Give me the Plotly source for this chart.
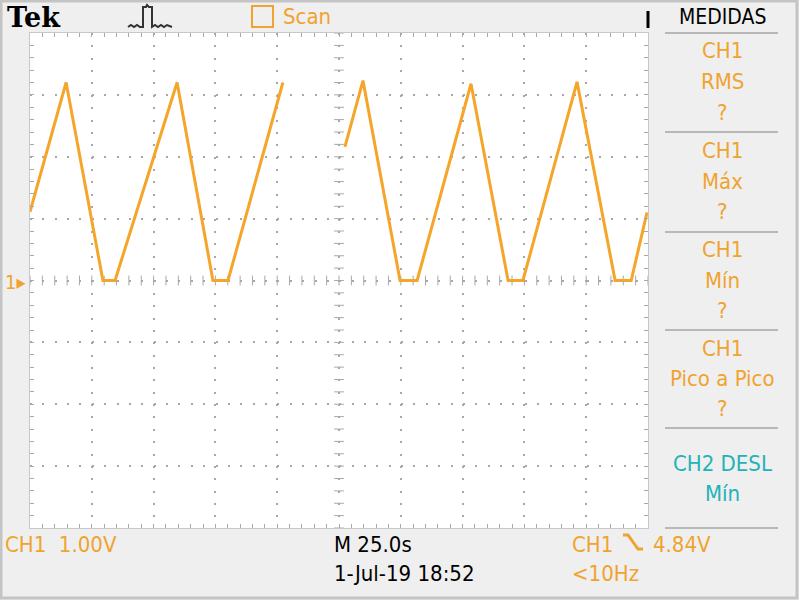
import numpy as np
import plotly.graph_objects as go

# ---- data (time in s, CH1 in V) ----
t_seg1 = [0.0, 14.6, 29.5, 34.4, 59.5, 74.0, 80.1, 102.3]
v_seg1 = [1.11, 3.20, 0.0, 0.0, 3.20, 0.0, 0.0, 3.20]
t_seg2 = [127.4, 134.7, 149.7, 156.6, 178.4, 193.4, 199.4, 221.3, 236.7, 243.2, 249.6]
v_seg2 = [2.16, 3.23, 0.0, 0.0, 3.18, 0.0, 0.0, 3.21, 0.0, 0.0, 1.10]

time_per_div = 25.0
volts_per_div = 1.0
x_divs = 10
y_divs = 8

top_labels = ["Tek", "Scan"]
menu_title = "MEDIDAS"
menu_items = [["CH1", "RMS", "?"], ["CH1", "Máx", "?"], ["CH1", "Mín", "?"],
              ["CH1", "Pico a Pico", "?"]]
ch2_item = ["CH2 DESL", "Mín"]
bottom_left = "CH1  1.00V"
bottom_mid = ["M 25.0s", "1-Jul-19 18:52"]
bottom_right = ["CH1", "4.84V", "<10Hz"]

ORANGE = "#F5A52A"
TEXT_OR = "#F0A32E"
TEAL = "#22B3B8"
GRAY = "#A8A8A8"
FONT = "Liberation Sans Narrow, DejaVu Sans Condensed, Liberation Sans, Arial"

W, H = 799, 600
L, R, T, B = 30, 648, 33, 528


def px(x):
    return (x - L) / (R - L)


def py(y):
    return (B - y) / (B - T)


xmax = time_per_div * x_divs
ymax = volts_per_div * y_divs / 2

t = t_seg1 + [None] + t_seg2
v = v_seg1 + [None] + v_seg2

fig = go.Figure()

# center-cross graticule ticks
cx = np.arange(0, xmax + 0.01, time_per_div / 5)
cy = np.arange(-ymax, ymax + 0.001, volts_per_div / 5)
fig.add_trace(go.Scatter(x=cx, y=np.zeros_like(cx), mode="markers",
                         marker=dict(symbol="line-ns", size=7, line=dict(width=1, color=GRAY)),
                         hoverinfo="skip", showlegend=False))
fig.add_trace(go.Scatter(x=np.full_like(cy, xmax / 2), y=cy, mode="markers",
                         marker=dict(symbol="line-ew", size=7, line=dict(width=1, color=GRAY)),
                         hoverinfo="skip", showlegend=False))

fig.add_trace(go.Scatter(x=t, y=v, mode="lines", line=dict(color=ORANGE, width=3),
                         connectgaps=False, showlegend=False))

axis_common = dict(showticklabels=False, ticks="inside", ticklen=4, tickcolor=GRAY,
                   mirror="ticks", showline=True, linecolor="#C8C8C8", linewidth=1,
                   showgrid=True, gridcolor=GRAY, gridwidth=1.5, griddash="2px,10.37px",
                   zeroline=False, fixedrange=True)

fig.update_xaxes(range=[0, xmax], dtick=time_per_div, tick0=0,
                 minor=dict(dtick=time_per_div / 5, ticks="inside", ticklen=4, tickcolor=GRAY,
                            showgrid=False),
                 **axis_common)
fig.update_yaxes(range=[-ymax, ymax], dtick=volts_per_div, tick0=0,
                 minor=dict(dtick=volts_per_div / 5, ticks="inside", ticklen=4, tickcolor=GRAY,
                            showgrid=False),
                 **axis_common)

ann = []


def add_text(text, x, y, color="black", size=22, xanchor="left", family=FONT):
    ann.append(dict(text=text, x=px(x), y=py(y), xref="paper", yref="paper",
                    xanchor=xanchor, yanchor="middle", showarrow=False,
                    font=dict(family=family, size=size, color=color)))


add_text("<b>Tek</b>", 5, 17, "black", 27, family="DejaVu Serif, Liberation Serif, serif")
add_text(top_labels[1], 281, 16, TEXT_OR, 22)
add_text(menu_title, 722, 17, "black", 21, "center")

row_y = [[50, 82, 112], [150, 181, 211], [249, 280, 310], [348, 378, 408]]
for item, ys in zip(menu_items, row_y):
    for s, yy in zip(item, ys):
        add_text(s, 722, yy, TEXT_OR, 22, "center")
add_text(ch2_item[0], 722, 463, TEAL, 22, "center")
add_text(ch2_item[1], 722, 493, TEAL, 22, "center")

add_text(bottom_left, 3, 544, TEXT_OR, 22)
add_text(bottom_mid[0], 332, 544, "black", 22)
add_text(bottom_mid[1], 332, 573, "black", 22)
add_text(bottom_right[0], 570, 544, TEXT_OR, 22)
add_text(bottom_right[1], 651, 544, TEXT_OR, 22)
add_text(bottom_right[2], 570, 573, TEXT_OR, 22)
add_text("1▸", 3, 282, TEXT_OR, 20)

shapes = []


def pshape(path_pts, color, width):
    d = "M" + " L".join(f"{px(a):.5f},{py(b):.5f}" for a, b in path_pts)
    shapes.append(dict(type="path", path=d, xref="paper", yref="paper",
                       line=dict(color=color, width=width)))


# outer frame
shapes.append(dict(type="rect", xref="paper", yref="paper", x0=px(1), x1=px(797),
                   y0=py(1), y1=py(598), line=dict(color="#C4C4C4", width=3)))
# menu separators
for yy in [33, 132, 232, 330, 428, 528]:
    pshape([(665, yy), (778, yy)], "#B8B8B8", 2)
# pulse icon
pshape([(128, 27), (131, 25), (134, 27), (137, 25), (140, 27), (143, 27), (143, 7),
        (146, 7), (147, 5), (149, 7), (152, 7), (152, 27), (155, 25), (158, 27),
        (161, 25), (164, 27), (167, 25), (172, 27)], "#333333", 2)
# scan square
shapes.append(dict(type="rect", xref="paper", yref="paper", x0=px(252), x1=px(273),
                   y0=py(27), y1=py(6), line=dict(color=TEXT_OR, width=2)))
# black bar at top right of screen
pshape([(648, 11), (648, 28)], "black", 3)
# falling-edge trigger glyph
pshape([(623, 535), (628, 535), (638, 549), (643, 549)], TEXT_OR, 3)

fig.update_layout(width=W, height=H, margin=dict(l=L, r=W - R, t=T, b=H - B),
                  paper_bgcolor="#EFEFEF", plot_bgcolor="white",
                  annotations=ann, shapes=shapes, showlegend=False)

fig.write_html("out.html", config={"displayModeBar": False},
               post_script="document.body.style.margin='0';document.body.style.padding='0';")
